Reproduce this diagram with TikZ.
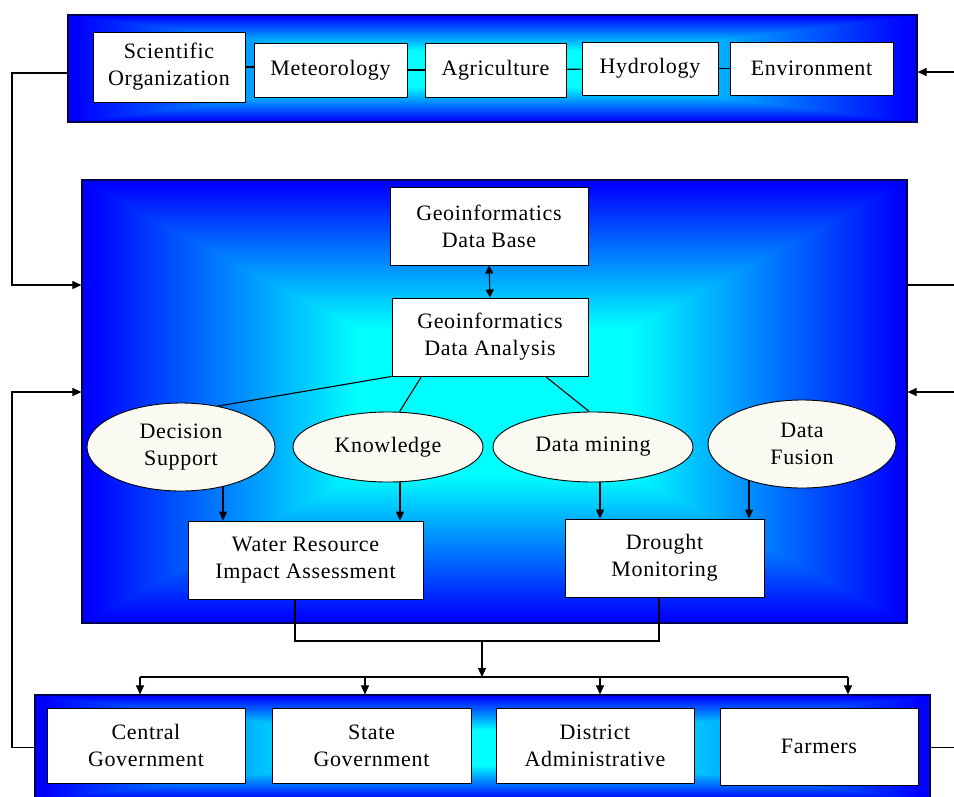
\documentclass[tikz,border=0pt]{standalone}
\usepackage{fontspec}
\setmainfont{Liberation Serif}[LetterSpace=3]
\usetikzlibrary{arrows.meta,shapes.geometric,calc}

% Rectangular "from centre" glow: cyan in the middle, pure blue at the rim
\pgfdeclarefunctionalshading{panelglow}{\pgfpoint{-50bp}{-50bp}}{\pgfpoint{50bp}{50bp}}{}{abs exch abs 2 copy lt {exch} if pop 25 div 0.98 exch sub 0.65 div dup 1 gt {pop 1} if dup 0 lt {pop 0} if 0 exch 1}

\definecolor{panelrim}{RGB}{0,0,80}
\definecolor{ovalfill}{RGB}{250,250,242}

\pgfdeclarelayer{paper}
\pgfdeclarelayer{panels}
\pgfdeclarelayer{wires}
\pgfsetlayers{paper,panels,wires,main}

\tikzset{
  panel/.style={rectangle, draw=panelrim, line width=1.2pt, shading=panelglow, inner sep=0pt},
  label text/.style={font=\fontsize{22}{27}\selectfont, align=center, text=black},
  box/.style={rectangle, draw=black, line width=0.9pt, fill=white, inner sep=0pt, label text},
  oval/.style={ellipse, draw=black, line width=0.9pt, fill=ovalfill, inner sep=0pt, label text},
  wire/.style={draw=black, line width=1.1pt},
  arrowed/.style={wire, -{Triangle[length=9pt,width=8pt]}},
  biarrow/.style={wire, {Triangle[length=8pt,width=8pt]}-{Triangle[length=8pt,width=8pt]}},
}

\begin{document}
\begin{tikzpicture}[x=1pt,y=-1pt]
\useasboundingbox (0,0) rectangle (954,796);
\begin{pgfonlayer}{paper}
  \fill[white] (0,0) rectangle (954,796);
\end{pgfonlayer}

% ---------- panels ----------
\begin{pgfonlayer}{panels}
  \node[panel, minimum width=849pt, minimum height=107pt] (top) at (492.5,68.5) {};
  \node[panel, minimum width=825pt, minimum height=443pt] (mid) at (494.5,401.5) {};
  \node[panel, minimum width=895pt, minimum height=105pt] (bot) at (482.5,747.5) {};
\end{pgfonlayer}

% ---------- organisations ----------
\node[box, minimum width=152pt, minimum height=70pt] (sci) at (169,67) {Scientific\\Organization};
\node[box, minimum width=153pt, minimum height=54pt] (met) at (330.5,70) {Meteorology};
\node[box, minimum width=141pt, minimum height=54pt] (agr) at (495.5,70) {Agriculture};
\node[box, minimum width=136pt, minimum height=53pt] (hyd) at (650,68.5) {Hydrology};
\node[box, minimum width=163pt, minimum height=53pt] (env) at (811.5,68.5) {Environment};

% ---------- geoinformatics core ----------
\node[box, minimum width=198pt, minimum height=78pt] (db) at (489,226) {Geoinformatics\\Data Base};
\node[box, minimum width=196pt, minimum height=78pt] (an) at (490,337) {Geoinformatics\\Data Analysis};

\node[oval, minimum width=188pt, minimum height=88pt] (dec) at (181,447) {Decision\\Support};
\node[oval, minimum width=190pt, minimum height=70pt] (know) at (388,447) {Knowledge};
\node[oval, minimum width=200pt, minimum height=70pt] (mine) at (593,447) {Data mining};
\node[oval, minimum width=188pt, minimum height=88pt] (fus) at (802,444) {Data\\Fusion};

\node[box, minimum width=235pt, minimum height=78pt] (water) at (305.5,560) {Water Resource\\Impact Assessment};
\node[box, minimum width=199pt, minimum height=78pt] (drought) at (664.5,558) {Drought\\Monitoring};

% ---------- users ----------
\node[box, minimum width=198pt, minimum height=75pt] (cen) at (146,745.5) {Central\\Government};
\node[box, minimum width=199pt, minimum height=75pt] (sta) at (371.5,745.5) {State\\Government};
\node[box, minimum width=198pt, minimum height=75pt] (dis) at (595,745.5) {District\\Administrative};
\node[box, minimum width=198pt, minimum height=77pt] (far) at (819,746.5) {Farmers};

% ---------- routing points ----------
\coordinate (Lx) at (12,0);
\coordinate (Rx) at (956,0);
\coordinate (yTop) at (0,73);
\coordinate (yTopR) at (0,72);
\coordinate (yUp) at (0,285);
\coordinate (yLow) at (0,392);
\coordinate (xDec) at (223,0);
\coordinate (xKnow) at (400,0);
\coordinate (xMine) at (600,0);
\coordinate (xFus) at (749,0);
\coordinate (wOut) at (295,641);
\coordinate (dOut) at (659,641);
\coordinate (hub) at (482,641);
\coordinate (split) at (482,677);
\coordinate (t1) at (140,677);
\coordinate (t2) at (365,677);
\coordinate (t3) at (600,677);
\coordinate (t4) at (848,677);

% ---------- connectors ----------
\begin{pgfonlayer}{wires}
  % chain of organisations
  \draw[wire] (sci.east) -- (sci.east -| met.west);
  \draw[wire] (met) -- (agr);
  \draw[wire] (agr) -- (hyd);
  \draw[wire] (hyd) -- (env);

  % analysis branches
  \draw[wire] (an.south west) -- (dec.48);
  \draw[wire] ([xshift=30pt]an.south west) -- (know.72);
  \draw[wire] ([xshift=-43pt]an.south east) -- (mine.96);

  % ovals into products
  \draw[arrowed] (xDec |- dec.center) -- (xDec |- water.north);
  \draw[arrowed] (xKnow |- know.center) -- (xKnow |- water.north);
  \draw[arrowed] (xMine |- mine.center) -- (xMine |- drought.north);
  \draw[arrowed] (xFus |- fus.center) -- (xFus |- drought.north);

  % products to users
  \draw[wire] (water.south -| wOut) -- (wOut) -- (dOut) -- (drought.south -| dOut);
  \draw[arrowed] (hub) -- (split);
  \draw[wire] (t1) -- (t4);
  \draw[arrowed] (t1) -- (t1 |- bot.north);
  \draw[arrowed] (t2) -- (t2 |- bot.north);
  \draw[arrowed] (t3) -- (t3 |- bot.north);
  \draw[arrowed] (t4) -- (t4 |- bot.north);

  % feedback loops on the left
  \draw[arrowed] (top.west |- yTop) -| (Lx |- yUp) -- (mid.west |- yUp);
  \draw[arrowed] (bot.west) -| (Lx |- yLow) -- (mid.west |- yLow);

  % links on the right
  \draw[arrowed] (Rx |- yTopR) -- (top.east |- yTopR);
  \draw[wire] (mid.east |- yUp) -- (Rx |- yUp);
  \draw[arrowed] (Rx |- yLow) -- (mid.east |- yLow);
  \draw[wire] (bot.east) -- (Rx |- bot.east);
\end{pgfonlayer}

% data base <-> analysis
\draw[biarrow] (db.south) -- (an.north);

\end{tikzpicture}
\end{document}
